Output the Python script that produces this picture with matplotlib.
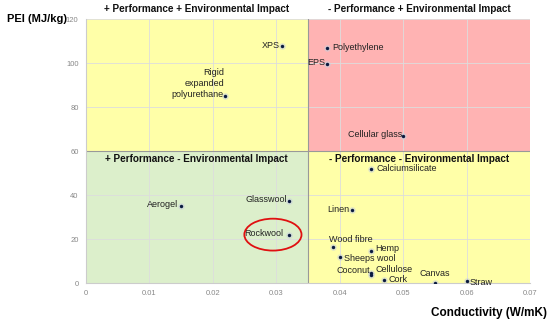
import matplotlib.pyplot as plt
from matplotlib.patches import Rectangle, Ellipse

plt.rcParams['font.family'] = ['Liberation Sans', 'DejaVu Sans']

# materials: conductivity (W/mK) and PEI (MJ/kg)
materials = ["XPS", "Polyethylene", "EPS", "Cellular glass", "Rigid\nexpanded\npolyurethane",
             "Aerogel", "Glasswool", "Rockwool", "Calciumsilicate", "Linen", "Wood fibre",
             "Hemp", "Sheeps wool", "Coconut", "Cellulose", "Cork", "Canvas", "Straw"]
conductivity = [0.031, 0.038, 0.038, 0.050, 0.022,
                0.015, 0.032, 0.032, 0.045, 0.042, 0.039,
                0.045, 0.040, 0.045, 0.045, 0.047, 0.055, 0.060]
pei = [108, 107, 99.5, 67, 85,
       35, 37.5, 22, 52, 33, 16.5,
       14.5, 12, 4.5, 3.5, 1.5, 0.2, 1]

x_split = 0.035
y_split = 60
quadrant_titles = ["+ Performance + Environmental Impact", "- Performance + Environmental Impact",
                   "+ Performance - Environmental Impact", "- Performance - Environmental Impact"]

# label placement (offset in points, alignment)
label_pos = {
    "XPS": (-2, 0, 'right', 'center'),
    "Polyethylene": (4, 0, 'left', 'center'),
    "EPS": (-1, 1, 'right', 'center'),
    "Cellular glass": (-1, 1, 'right', 'center'),
    "Rigid\nexpanded\npolyurethane": (-1, -2, 'right', 'bottom'),
    "Aerogel": (-2, 1, 'right', 'center'),
    "Glasswool": (-1, 1, 'right', 'center'),
    "Rockwool": (-4, 1, 'right', 'center'),
    "Calciumsilicate": (4, 0, 'left', 'center'),
    "Linen": (-2, 1, 'right', 'center'),
    "Wood fibre": (-3, 2, 'left', 'bottom'),
    "Hemp": (3, 2, 'left', 'center'),
    "Sheeps wool": (3, -1, 'left', 'center'),
    "Coconut": (-1, 2, 'right', 'center'),
    "Cellulose": (3, 4, 'left', 'center'),
    "Cork": (3, 0, 'left', 'center'),
    "Canvas": (0, 3, 'center', 'bottom'),
    "Straw": (2, -1, 'left', 'center'),
}

fig = plt.figure(figsize=(5.5, 3.24), dpi=100)
ax = fig.add_axes([0.1555, 0.1265, 0.8085, 0.8145])
ax.set_xlim(0, 0.07)
ax.set_ylim(0, 120)

yellow = '#ffffa8'
ax.add_patch(Rectangle((0, y_split), x_split, 120 - y_split, facecolor=yellow, edgecolor='none', zorder=0))
ax.add_patch(Rectangle((x_split, y_split), 0.07 - x_split, 120 - y_split, facecolor='#ffb3b3', edgecolor='none', zorder=0))
ax.add_patch(Rectangle((0, 0), x_split, y_split, facecolor='#dcefcb', edgecolor='none', zorder=0))
ax.add_patch(Rectangle((x_split, 0), 0.07 - x_split, y_split, facecolor=yellow, edgecolor='none', zorder=0))
ax.axvline(x_split, color='#999999', lw=0.8, zorder=1)
ax.axhline(y_split, color='#999999', lw=0.8, zorder=1)

ax.set_xticks([0, 0.01, 0.02, 0.03, 0.04, 0.05, 0.06, 0.07])
ax.set_xticklabels(['0', '0.01', '0.02', '0.03', '0.04', '0.05', '0.06', '0.07'])
ax.set_yticks([0, 20, 40, 60, 80, 100, 120])
ax.grid(True, color='#dddddd', lw=0.6, zorder=0.5)
ax.set_axisbelow(True)
ax.tick_params(length=0, labelsize=5.5, labelcolor='#888888', pad=5)
for s in ax.spines.values():
    s.set_visible(False)
ax.spines['bottom'].set_visible(True)
ax.spines['bottom'].set_color('#cccccc')
ax.spines['left'].set_visible(True)
ax.spines['left'].set_color('#cccccc')

# shadow then dot
ax.scatter(conductivity, pei, s=22, color='#c8d0dc', alpha=0.6, zorder=2, linewidths=0)
ax.scatter(conductivity, pei, s=6, color='#0a1a40', zorder=3, linewidths=0)

for name, x, y in zip(materials, conductivity, pei):
    dx, dy, ha, va = label_pos[name]
    ax.annotate(name, (x, y), xytext=(dx, dy), textcoords='offset points',
                ha=ha, va=va, fontsize=6.5, color='#222222', zorder=4, linespacing=1.3)

ax.add_patch(Ellipse((0.0295, 22), 0.009, 14.5, facecolor='none', edgecolor='#e01010', lw=1.3, zorder=5))

tkw = dict(fontsize=7.2, fontweight='bold', color='#111111', ha='center')
ax.text(x_split / 2, 122.5, quadrant_titles[0], va='bottom', **tkw)
ax.text((x_split + 0.07) / 2, 122.5, quadrant_titles[1], va='bottom', **tkw)
ax.text(x_split / 2, 58.5, quadrant_titles[2], va='top', **tkw)
ax.text((x_split + 0.07) / 2, 58.5, quadrant_titles[3], va='top', **tkw)

fig.text(0.012, 0.94, 'PEI (MJ/kg)', fontsize=8, fontweight='bold', va='center', ha='left')
fig.text(0.995, 0.035, 'Conductivity (W/mK)', fontsize=8.5, fontweight='bold', va='center', ha='right')

fig.savefig('out.png', dpi=100)
